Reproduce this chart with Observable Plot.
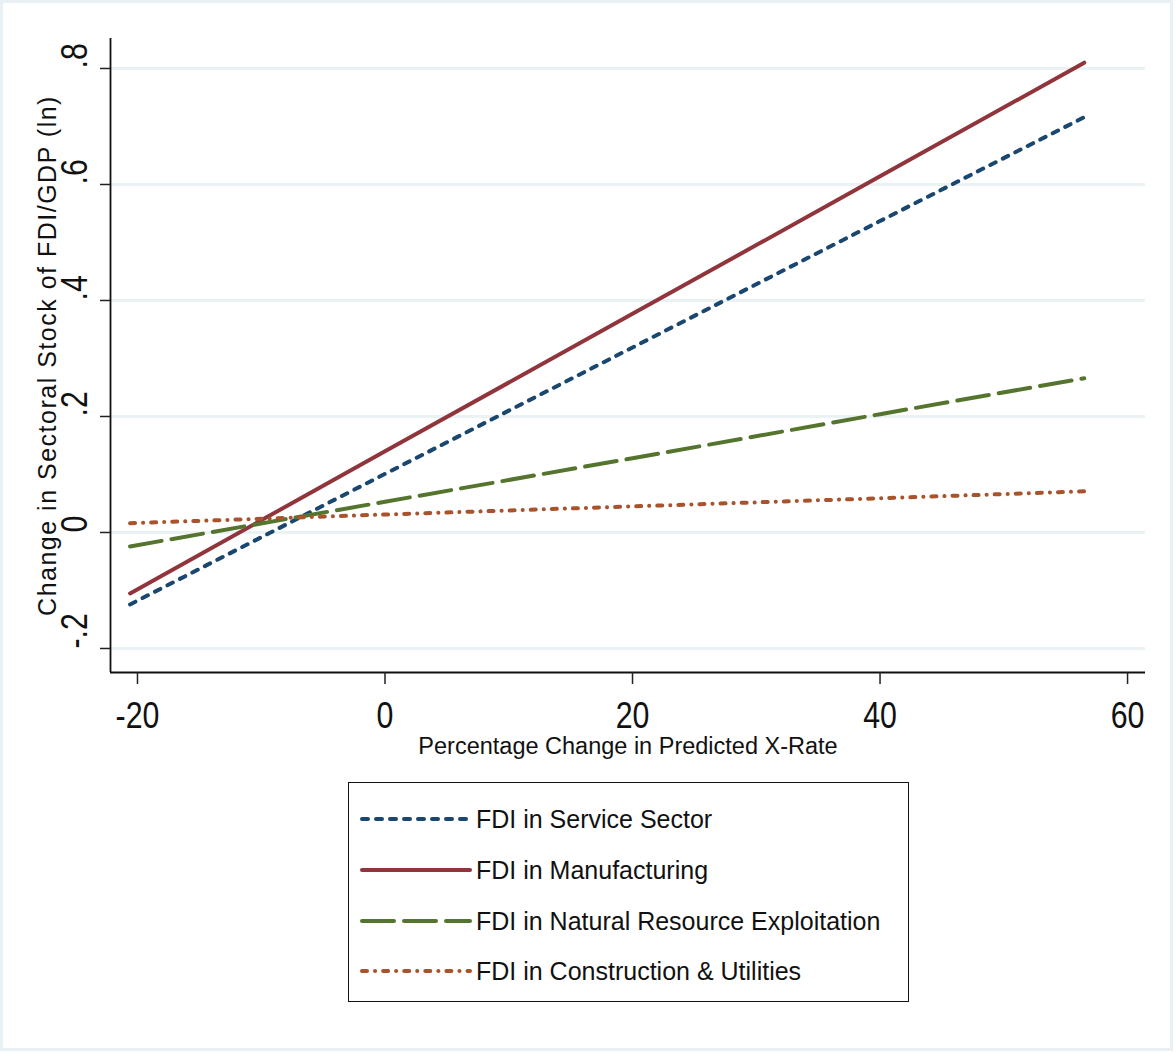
<!DOCTYPE html>
<html><head><meta charset="utf-8">
<script src="https://cdn.jsdelivr.net/npm/d3@7"></script>
<script src="https://cdn.jsdelivr.net/npm/@observablehq/plot@0.6"></script>
<style>
html,body{margin:0;padding:0;background:#fff;}
#page{position:relative;width:1176px;height:1055px;overflow:hidden;font-family:"Liberation Sans",Arial,sans-serif;}
#border{position:absolute;left:0;top:0;width:1167px;height:1045px;border:3px solid #e9f0f3;}
#chart{position:absolute;left:0;top:0;}
#legend{position:absolute;left:348px;top:782px;width:559px;height:218px;border:1.5px solid #111;background:#fff;}
.row{position:absolute;left:0;height:40px;display:flex;align-items:center;}
.row svg{margin-left:11px;display:block;}
.row span{margin-left:4px;font-size:25px;color:#111;white-space:nowrap;}
</style></head>
<body><div id="page"><div id="border"></div><div id="chart"></div><div id="legend"></div></div>
<script>
// ---- data ----
const seriesNames = ["FDI in Service Sector", "FDI in Manufacturing", "FDI in Natural Resource Exploitation", "FDI in Construction & Utilities"];
const xValues = [-20.6, 0, 20, 40, 56.5];
const serviceValues = [-0.124, 0.101, 0.319, 0.537, 0.716];
const manufacturingValues = [-0.105, 0.140, 0.377, 0.614, 0.810];
const naturalValues = [-0.024, 0.053, 0.128, 0.204, 0.266];
const constructionValues = [0.016, 0.031, 0.045, 0.059, 0.071];
const xTicks = [-20, 0, 20, 40, 60];
const yTicks = [-0.2, 0, 0.2, 0.4, 0.6, 0.8];
const xTitle = "Percentage Change in Predicted X-Rate";
const yTitle = "Change in Sectoral Stock of FDI/GDP (ln)";

// ---- styles ----
const seriesValues = [serviceValues, manufacturingValues, naturalValues, constructionValues];
const colors = ["#1a476f", "#90353b", "#55752f", "#a8532c"];
const dashes = ["6,8", null, "32,10", "5,8,0.1,8"];
const font = '"Liberation Sans",Arial,sans-serif';

const data = seriesNames.flatMap((name, i) => xValues.map((x, j) => ({name, x, y: seriesValues[i][j]})));
const fmtX = d => String(d);
const fmtY = d => d === 0 ? "0" : d3.format(".1f")(d).replace("−", "-").replace("0.", ".");
const xDomain = [-22.18, 61.45];
const yDomain = [-0.2414, 0.8517];

const chart = Plot.plot({
  width: 1176, height: 770,
  marginLeft: 110, marginRight: 31, marginTop: 38, marginBottom: 98,
  style: {background: "transparent", overflow: "visible"},
  x: {domain: xDomain},
  y: {domain: yDomain},
  marks: [
    Plot.gridY(yTicks, {stroke: "#eaf2f4", strokeOpacity: 1, strokeWidth: 3}),
    ...seriesNames.map((name, i) => Plot.line(data.filter(d => d.name === name), {
      x: "x", y: "y", stroke: colors[i], strokeWidth: 4,
      strokeDasharray: dashes[i] || undefined, strokeLinecap: "round"
    })),
    Plot.ruleX([xDomain[0]], {stroke: "#111", strokeWidth: 1.8}),
    Plot.ruleY([yDomain[0]], {stroke: "#111", strokeWidth: 1.8}),
    Plot.axisX({ticks: xTicks, tickSize: 12, tickPadding: 17, fontSize: 37, fontFamily: font, tickFormat: fmtX, label: null, stroke: "#222", strokeWidth: 1.5, fill: "#111"}),
    Plot.axisY({ticks: yTicks, tickSize: 10, tickFormat: () => "", label: null, stroke: "#222", strokeWidth: 1.5}),
    Plot.text(yTicks, {y: d => d, text: fmtY, frameAnchor: "left", rotate: -90, dx: -35, fontSize: 37, fontFamily: font, fill: "#111"}),
    Plot.text([yTitle], {frameAnchor: "left", textAnchor: "middle", rotate: -90, dx: -63, fontSize: 25, fill: "#111", fontFamily: font}),
    Plot.text([xTitle], {frameAnchor: "bottom", textAnchor: "middle", dy: 81, fontSize: 23.5, fill: "#111", fontFamily: font})
  ]
});
document.getElementById("chart").append(chart);

// narrow look of the tick labels (condensed Helvetica in the reference)
const svgSel = d3.select(chart.tagName.toLowerCase() === "svg" ? chart : chart.querySelector("svg"));
const tickStrings = new Set([...xTicks.map(fmtX), ...yTicks.map(fmtY)]);
svgSel.selectAll("text").each(function() {
  const t = this.textContent;
  if (tickStrings.has(t)) {
    const tr = this.getAttribute("transform") || "";
    this.setAttribute("transform", tr + " scale(0.82,1)");
  }
  if (t === yTitle) this.setAttribute("letter-spacing", "1.5px");
});

// legend
const legend = document.getElementById("legend");
const rowCenters = [36, 87, 138, 188];
seriesNames.forEach((name, i) => {
  const row = document.createElement("div");
  row.className = "row";
  row.style.top = (rowCenters[i] - 20) + "px";
  const ns = "http://www.w3.org/2000/svg";
  const svg = document.createElementNS(ns, "svg");
  svg.setAttribute("width", 112); svg.setAttribute("height", 10);
  const ln = document.createElementNS(ns, "line");
  ln.setAttribute("x1", 2); ln.setAttribute("x2", 110); ln.setAttribute("y1", 5); ln.setAttribute("y2", 5);
  ln.setAttribute("stroke", colors[i]); ln.setAttribute("stroke-width", 4); ln.setAttribute("stroke-linecap", "round");
  if (dashes[i]) ln.setAttribute("stroke-dasharray", dashes[i]);
  svg.append(ln);
  const span = document.createElement("span");
  span.textContent = name;
  row.append(svg, span);
  legend.append(row);
});
</script>
</body></html>
